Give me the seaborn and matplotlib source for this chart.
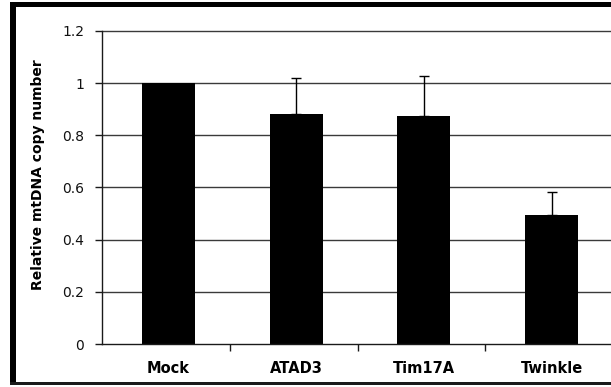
import matplotlib
matplotlib.use("Agg")
import matplotlib.pyplot as plt
from matplotlib.patches import Rectangle
import seaborn as sns
import pandas as pd
import numpy as np

# Relative mtDNA copy number after knockdown
conditions = ["Mock", "ATAD3", "Tim17A", "Twinkle"]
copy_number = [1.0, 0.883, 0.873, 0.494]
error_up = [0.0, 0.136, 0.155, 0.090]
y_ticks = [0, 0.2, 0.4, 0.6, 0.8, 1.0, 1.2]
y_tick_labels = ["0", "0.2", "0.4", "0.6", "0.8", "1", "1.2"]

df = pd.DataFrame({"condition": conditions, "value": copy_number})

sns.set_theme(style="white")
plt.rcParams["font.family"] = ["DejaVu Sans"]

W, H = 611, 387
fig = plt.figure(figsize=(W / 100, H / 100), dpi=100)
fig.patch.set_facecolor("white")

ax_left, ax_right = 102, 613
ax_top, ax_bottom = 31, 344
ax = fig.add_axes([ax_left / W, (H - ax_bottom) / H,
                   (ax_right - ax_left) / W, (ax_bottom - ax_top) / H])
ax.set_facecolor("white")

sns.barplot(data=df, x="condition", y="value", color="black",
            width=0.415, errorbar=None, saturation=1, ax=ax, zorder=3)
for patch in ax.patches:
    patch.set_edgecolor("black")
    patch.set_linewidth(0)

# Upper error bars only
xs = np.arange(len(conditions))
mask = np.array(error_up) > 0
ax.errorbar(xs[mask], np.array(copy_number)[mask],
            yerr=[np.zeros(mask.sum()), np.array(error_up)[mask]],
            fmt="none", ecolor="black", elinewidth=1.0, capsize=3.6,
            capthick=1.0, zorder=4)

ax.set_xlim(-0.52, 3.48)
ax.set_ylim(0, 1.2)
ax.set_yticks(y_ticks)
ax.set_yticklabels(y_tick_labels)

# Horizontal gridlines behind the bars
for yv in y_ticks[1:]:
    ax.axhline(yv, color="#3a3a3a", lw=1.0, zorder=1, clip_on=False)

for side in ["top", "right"]:
    ax.spines[side].set_visible(False)
for side in ["left", "bottom"]:
    ax.spines[side].set_visible(True)
    ax.spines[side].set_color("#1a1a1a")
    ax.spines[side].set_linewidth(1.0)
    ax.spines[side].set_zorder(5)

ax.set_xticks(xs)
ax.set_xticklabels(conditions, fontweight="bold", fontsize=10.5, color="black")
ax.set_xticks([0.48, 1.48, 2.48], minor=True)
ax.tick_params(axis="x", which="major", length=0, pad=12)
ax.tick_params(axis="x", which="minor", direction="out", length=5,
               width=1.0, color="#1a1a1a", bottom=True)
ax.tick_params(axis="y", which="major", direction="out", length=5,
               width=1.0, color="#1a1a1a", left=True, pad=8, labelsize=10,
               labelcolor="#111111")

ax.set_xlabel("")
ax.set_ylabel("Relative mtDNA copy number", fontweight="bold", fontsize=10,
              color="black")
ax.yaxis.set_label_coords(-0.112, 0.54)

# Frame around the figure
def band(x0, y0, x1, y1, color="black"):
    fig.add_artist(Rectangle((x0 / W, (H - y1) / H), (x1 - x0) / W,
                             (y1 - y0) / H, transform=fig.transFigure,
                             facecolor=color, edgecolor="none", zorder=10))

band(10, 2, 16, 385)
band(10, 2, W, 7)
band(10, 382, W, 385, color="#1a1a1a")

fig.savefig("out.png", dpi=100, facecolor="white")
